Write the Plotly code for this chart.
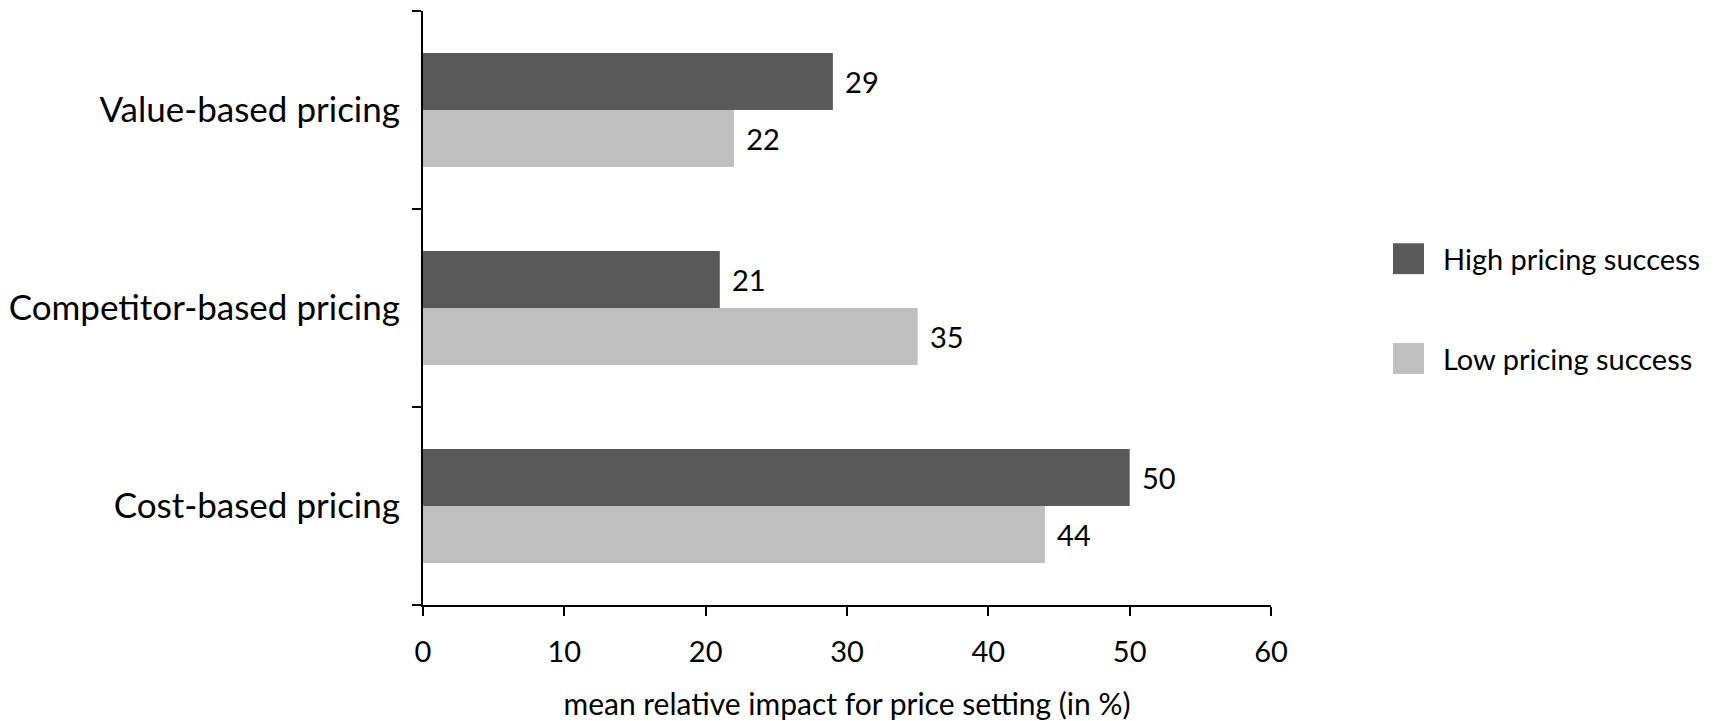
import plotly.graph_objects as go

# Pricing approaches (bottom to top on the category axis)
categories = ["Cost-based pricing", "Competitor-based pricing", "Value-based pricing"]
high_success = [50, 21, 29]
low_success = [44, 35, 22]
series_names = ["High pricing success", "Low pricing success"]
x_ticks = [0, 10, 20, 30, 40, 50, 60]

DARK = "#595959"
LIGHT = "#BFBFBF"
FONT = "Lato, Carlito, Calibri, sans-serif"
GAP = "\u00a0\u200a"  # small lead-in space between bar end and its value

fig = go.Figure()
# Low first so that the high-success bar sits above it within each group
fig.add_trace(go.Bar(
    y=categories, x=low_success, orientation="h", name=series_names[1],
    marker=dict(color=LIGHT, line=dict(width=0)),
    text=[GAP + str(v) for v in low_success], textposition="outside",
    textfont=dict(size=29, color="black", family=FONT), cliponaxis=False,
))
fig.add_trace(go.Bar(
    y=categories, x=high_success, orientation="h", name=series_names[0],
    marker=dict(color=DARK, line=dict(width=0)),
    text=[GAP + str(v) for v in high_success], textposition="outside",
    textfont=dict(size=29, color="black", family=FONT), cliponaxis=False,
))

# Legend drawn as large swatches with text beside them
legend_items = [(series_names[0], DARK, 0.583), (series_names[1], LIGHT, 0.415)]
for label, color, yc in legend_items:
    fig.add_shape(type="rect", xref="paper", yref="paper",
                  x0=1.1439, x1=1.1804, y0=yc - 0.026, y1=yc + 0.026,
                  fillcolor=color, line=dict(width=0))
    fig.add_annotation(xref="paper", yref="paper", x=1.2010, y=yc,
                       xanchor="left", yanchor="middle", showarrow=False,
                       text=label, font=dict(size=29, color="black", family=FONT))

fig.update_layout(
    width=1719, height=721,
    margin=dict(l=423, r=448, t=11, b=116),
    paper_bgcolor="white", plot_bgcolor="white",
    barmode="group", bargap=0.424, bargroupgap=0,
    showlegend=False,
    font=dict(family=FONT, color="black"),
    uniformtext=dict(mode=False),
)
fig.update_xaxes(
    range=[0, 60], tickvals=x_ticks, ticks="outside", ticklen=9, tickwidth=2,
    tickcolor="black", showline=True, linecolor="black", linewidth=2,
    showgrid=False, zeroline=False, tickfont=dict(size=29, family=FONT),
    ticklabelstandoff=11, automargin=False,
    title=dict(text="mean relative impact for price setting (in %)",
               font=dict(size=30, family=FONT), standoff=30),
)
fig.update_yaxes(
    categoryorder="array", categoryarray=categories,
    tickson="boundaries", ticks="outside", ticklen=9, tickwidth=2,
    tickcolor="black", showline=True, linecolor="black", linewidth=2,
    showgrid=False, zeroline=False, tickfont=dict(size=35, family=FONT),
    ticklabelstandoff=14, automargin=False,
)

fig.write_html("out.html")
